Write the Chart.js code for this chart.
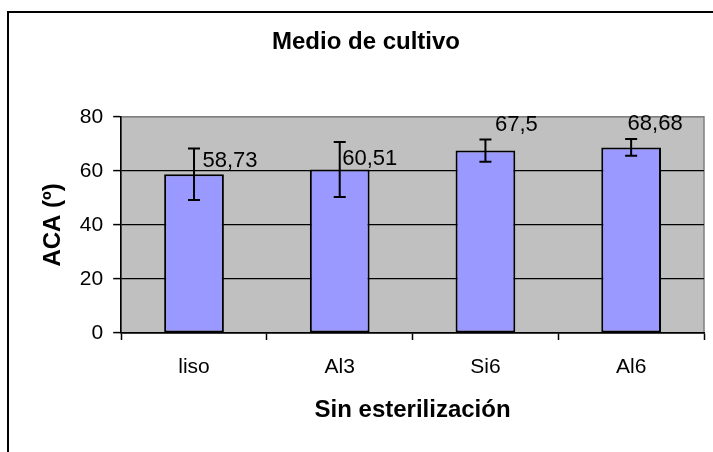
<!DOCTYPE html>
<html>
<head>
<meta charset="utf-8">
<script src="https://cdn.jsdelivr.net/npm/chart.js@4.4.1/dist/chart.umd.min.js"></script>
<style>
  html, body { margin: 0; padding: 0; background: #fff; overflow: hidden; }
  /* the Excel chart frame runs past the window, so the canvas does too */
  #wrap { width: 740px; height: 452px; }
</style>
</head>
<body>
<div id="wrap"><canvas id="chart"></canvas></div>
<script>
const categories = ['liso', 'Al3', 'Si6', 'Al6']
const aca = [58.73, 60.51, 67.5, 68.68]
const acaError = [9.5, 10.2, 4.1, 3.1]
const valueLabels = ['58,73', '60,51', '67,5', '68,68']
const yTicks = [0, 20, 40, 60, 80]

const FONT = "'Liberation Sans', Arial, sans-serif"

// label nudges (px) relative to bar center / bar top, as placed in the original
const labelNudge = [[36, -13], [30, -11], [31, -26], [24, -23]]

const plotArea = {
  id: 'plotArea',
  beforeDraw(chart) {
    const { ctx, chartArea: a, width, height } = chart
    ctx.save()
    ctx.fillStyle = '#fff'
    ctx.fillRect(0, 0, width, height)
    ctx.strokeStyle = '#000'
    ctx.lineWidth = 2
    ctx.strokeRect(8, 12, width + 20, height + 20)
    ctx.fillStyle = '#c0c0c0'
    ctx.fillRect(a.left, a.top, a.right - a.left, a.bottom - a.top)
    ctx.strokeStyle = '#808080'
    ctx.lineWidth = 1.5
    ctx.strokeRect(a.left, a.top, a.right - a.left, a.bottom - a.top)
    ctx.restore()
  }
}

const errorBarsAndLabels = {
  id: 'errorBarsAndLabels',
  afterDatasetsDraw(chart) {
    const { ctx } = chart
    const y = chart.scales.y
    const bars = chart.getDatasetMeta(0).data
    ctx.save()
    ctx.strokeStyle = '#000'
    ctx.lineWidth = 2
    bars.forEach((bar, i) => {
      const hi = y.getPixelForValue(aca[i] + acaError[i])
      const lo = y.getPixelForValue(aca[i] - acaError[i])
      ctx.beginPath()
      ctx.moveTo(bar.x, hi)
      ctx.lineTo(bar.x, lo)
      ctx.moveTo(bar.x - 6, hi)
      ctx.lineTo(bar.x + 6, hi)
      ctx.moveTo(bar.x - 6, lo)
      ctx.lineTo(bar.x + 6, lo)
      ctx.stroke()
    })
    ctx.fillStyle = '#000'
    ctx.font = '22px ' + FONT
    ctx.textAlign = 'center'
    ctx.textBaseline = 'middle'
    bars.forEach((bar, i) => {
      const top = y.getPixelForValue(aca[i])
      ctx.fillText(valueLabels[i], bar.x + labelNudge[i][0], top + labelNudge[i][1])
    })
    ctx.restore()
  }
}

new Chart(document.getElementById('chart'), {
  type: 'bar',
  data: {
    labels: categories,
    datasets: [{
      data: aca,
      backgroundColor: '#9999ff',
      borderColor: '#000',
      borderWidth: 2,
      borderSkipped: false,
      barPercentage: 0.41,
      categoryPercentage: 1
    }]
  },
  options: {
    responsive: true,
    maintainAspectRatio: false,
    animation: false,
    layout: { padding: { left: 28, right: 36, top: 28, bottom: 23 } },
    plugins: {
      legend: { display: false },
      tooltip: { enabled: false },
      title: {
        display: true,
        text: 'Medio de cultivo',
        color: '#000',
        font: { family: FONT, size: 24, weight: 'bold' },
        padding: { top: 0, bottom: 60 }
      }
    },
    scales: {
      x: {
        grid: {
          offset: true,
          drawOnChartArea: false,
          tickLength: 7,
          tickColor: '#000',
          tickWidth: 1.5
        },
        border: { color: '#000', width: 1.5 },
        ticks: { color: '#000', padding: 15, font: { family: FONT, size: 21 } },
        title: {
          display: true,
          text: 'Sin esterilización',
          color: '#000',
          font: { family: FONT, size: 24, weight: 'bold' },
          padding: { top: 1, bottom: 4 }
        }
      },
      y: {
        min: 0,
        max: 80,
        afterBuildTicks: (scale) => {
          scale.ticks = yTicks.map(v => ({ value: v }))
        },
        grid: {
          color: (c) => c.tick && c.tick.value === 80 ? '#808080' : '#000',
          lineWidth: 1.2,
          tickLength: 8,
          tickColor: '#000',
          tickWidth: 1.5
        },
        border: { color: '#000', width: 1.5 },
        ticks: { color: '#000', padding: 10, font: { family: FONT, size: 21 } },
        title: {
          display: true,
          text: 'ACA (º)',
          color: '#000',
          font: { family: FONT, size: 24, weight: 'bold' },
          padding: { top: 11, bottom: 2 }
        }
      }
    }
  },
  plugins: [plotArea, errorBarsAndLabels]
})
</script>
</body>
</html>
